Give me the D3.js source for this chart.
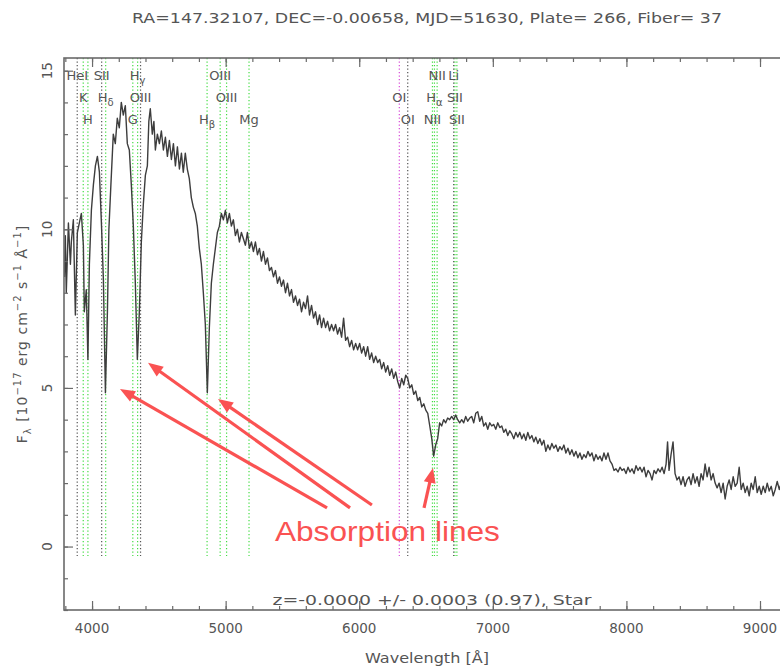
<!DOCTYPE html>
<html><head><meta charset="utf-8">
<script src="https://cdn.jsdelivr.net/npm/d3@7"></script>
<style>body{margin:0;background:#fff;} svg{display:block;}</style>
</head><body>
<svg id="c" width="780" height="668"></svg>
<script>
// ---- data ----
const wavelength = [3793,3800,3807,3823,3838,3845,3860,3875,3890,3905,3920,3935,3942,3957,3969,3980,3995,4010,4025,4040,4055,4070,4085,4100,4115,4126,4141,4159,4174,4189,4204,4219,4234,4249,4264,4279,4294,4309,4324,4339,4354,4369,4384,4399,4414,4425,4436,4451,4463,4474,4489,4504,4519,4534,4549,4564,4579,4594,4609,4624,4639,4654,4669,4683,4698,4713,4728,4743,4758,4773,4788,4803,4818,4833,4848,4863,4878,4893,4908,4923,4938,4953,4968,4983,4998,5013,5028,5043,5058,5073,5088,5103,5118,5133,5148,5163,5178,5193,5208,5223,5238,5253,5268,5283,5298,5313,5328,5343,5358,5373,5388,5403,5418,5433,5448,5463,5478,5493,5508,5523,5538,5553,5568,5583,5598,5613,5628,5643,5658,5673,5688,5703,5718,5733,5748,5763,5778,5793,5808,5823,5838,5853,5868,5883,5898,5913,5928,5943,5958,5973,5988,6003,6018,6033,6048,6063,6078,6093,6108,6123,6138,6153,6168,6183,6198,6213,6228,6243,6258,6273,6288,6303,6318,6333,6348,6363,6378,6393,6408,6423,6438,6453,6468,6483,6498,6513,6528,6543,6557,6572,6587,6602,6617,6632,6647,6662,6677,6692,6707,6722,6737,6752,6767,6782,6797,6812,6827,6842,6857,6872,6887,6902,6917,6932,6947,6962,6977,6992,7007,7022,7037,7052,7067,7082,7097,7112,7127,7142,7157,7172,7187,7202,7217,7232,7247,7262,7277,7292,7307,7322,7337,7352,7367,7382,7397,7412,7427,7442,7457,7472,7487,7502,7517,7532,7547,7562,7577,7592,7607,7622,7637,7652,7667,7682,7697,7712,7727,7742,7757,7772,7787,7802,7817,7832,7847,7862,7877,7892,7907,7922,7937,7952,7967,7982,7997,8012,8027,8042,8057,8072,8087,8102,8117,8132,8147,8162,8177,8192,8207,8222,8237,8252,8267,8282,8297,8308,8319,8334,8349,8364,8379,8394,8409,8424,8439,8454,8469,8484,8499,8514,8529,8544,8559,8574,8589,8604,8619,8634,8649,8664,8679,8694,8709,8724,8739,8754,8769,8784,8799,8814,8829,8844,8859,8874,8889,8904,8919,8934,8949,8964,8979,8994,9009,9024,9039,9054,9069,9084,9099,9114,9129,9144,9159,9174];
const flux = [8.5,9.8,8.0,10.2,8.9,9.6,10.3,7.3,9.9,10.2,10.5,9.5,7.4,8.1,5.9,8.9,10.6,11.4,12.0,12.3,11.8,10.2,8.4,4.85,7.4,10.0,11.4,13.0,12.7,13.5,13.2,14.0,13.6,13.9,12.7,12.5,11.4,10.1,8.3,5.9,7.4,9.6,10.8,11.7,12.0,13.4,13.8,13.0,13.4,12.5,13.0,12.7,13.1,12.5,12.9,12.3,12.8,12.2,12.7,12.0,12.6,11.9,12.4,11.8,12.4,11.9,11.6,11.0,10.7,10.5,10.1,9.4,8.9,8.0,7.0,4.85,6.9,8.3,8.9,9.4,9.9,10.1,10.5,10.3,10.6,10.2,10.5,10.1,10.3,9.8,10.0,9.6,9.9,9.7,9.5,9.9,9.4,9.6,9.3,9.6,9.2,9.4,9.0,9.3,8.9,9.1,8.7,8.8,8.5,8.7,8.3,8.5,8.2,8.4,8.0,8.3,7.9,8.1,7.7,7.9,7.6,7.8,7.4,7.7,7.5,7.9,7.3,7.6,7.2,7.4,7.0,7.3,6.9,7.2,6.9,7.1,6.8,7.0,6.8,7.0,6.7,6.9,6.6,7.2,6.5,6.6,6.3,6.5,6.2,6.4,6.2,6.4,6.1,6.3,6.0,6.3,5.9,6.1,5.8,6.0,5.8,5.9,5.6,5.8,5.5,5.7,5.4,5.6,5.3,5.5,5.2,5.0,5.3,5.1,5.4,5.3,5.0,5.1,4.8,4.9,4.6,4.7,4.4,4.5,4.3,4.2,3.8,3.4,2.85,3.2,3.4,3.9,3.8,4.0,3.9,4.05,4.0,4.1,4.0,4.15,4.0,3.9,4.0,3.9,4.1,3.95,4.05,4.1,3.9,4.2,4.25,3.95,4.1,3.8,3.9,3.7,3.9,3.8,3.85,3.7,3.9,3.75,3.8,3.6,3.7,3.5,3.65,3.55,3.4,3.6,3.45,3.6,3.4,3.55,3.35,3.6,3.4,3.5,3.3,3.45,3.25,3.4,3.2,3.35,3.0,3.2,3.05,3.25,3.1,3.2,3.0,3.15,3.05,3.2,2.95,3.1,2.9,3.05,2.85,3.0,2.8,2.95,2.75,2.9,2.8,3.0,2.85,2.95,2.7,2.9,2.75,2.85,2.7,2.95,2.75,2.95,2.7,2.6,2.4,2.45,2.35,2.5,2.4,2.45,2.3,2.5,2.35,2.45,2.3,2.55,2.4,2.5,2.35,2.5,2.2,2.4,2.3,2.1,2.4,2.3,2.45,2.35,2.5,2.3,2.6,3.3,2.4,2.9,3.3,2.3,2.1,2.2,1.95,2.2,1.9,2.1,2.2,1.95,2.3,2.0,2.2,1.9,2.3,2.1,2.6,2.2,2.5,2.1,2.3,2.0,1.85,2.0,1.7,2.0,1.5,1.9,2.1,1.8,2.2,1.9,2.0,2.5,1.8,2.0,1.7,1.9,1.6,2.0,1.8,2.2,1.7,1.9,1.65,1.9,1.7,2.0,1.75,1.9,1.6,1.8,2.05,1.8,2.0,1.9];

const lineWave = [3889,3934,3969,4072,4102,4305,4341,4363,4861,4959,5007,5175,6300,6363,6548,6563,6583,6707,6716,6731];
const lineName = ["HeI","K","H","SII","H|δ","G","H|γ","OIII","H|β","OIII","OIII","Mg","OI","OI","NII","H|α","NII","Li","SII","SII"];
const lineRow  = [1,2,3,1,2,3,1,2,3,1,2,3,2,3,3,2,1,1,2,3];
const lineKind = ["abs","em","em","abs","em","em","em","abs","em","em","em","em","sky","abs","em","em","em","abs","em","em"];

const xTickValues = [4000,5000,6000,7000,8000,9000];
const yTickValues = [0,5,10,15];

const titleText = "RA=147.32107, DEC=-0.00658, MJD=51630, Plate= 266, Fiber= 37";
const fitText = "z=-0.0000 +/- 0.0003 (0.97), Star";
const annotText = "Absorption lines";
const annotPos = [5369, 0.18];
const arrowTips  = [[4209,4.97],[4419,5.79],[4943,4.65],[6552,2.48]];
const arrowTails = [[5759,1.22],[5931,1.22],[6095,1.31],[6485,1.22]];

// ---- drawing ----
const svg = d3.select('#c');
const x = d3.scaleLinear().domain([3790,9220]).range([64,789.4]);
const y = d3.scaleLinear().domain([-2,15.4]).range([610,58]);
const axisCol = '#6a6a6a', txtCol = '#555';
const font = 'DejaVu Sans';

svg.append('defs').append('clipPath').attr('id','pc')
  .append('rect').attr('x',64).attr('y',58).attr('width',725).attr('height',552);

// line markers
const lg = svg.append('g').attr('clip-path','url(#pc)');
const colorOf = k => k==='em' ? '#44dd44' : (k==='sky' ? '#d84bd8' : '#555');
lineWave.forEach((w,i)=>{
  lg.append('line').attr('x1',x(w)).attr('x2',x(w))
    .attr('y1',y(15.4)).attr('y2',y(-0.3))
    .attr('stroke',colorOf(lineKind[i])).attr('stroke-width',1.2)
    .attr('stroke-dasharray','1.3,2.2');
});

// labels
const rowY = {1:80, 2:102, 3:124};
lineWave.forEach((w,i)=>{
  const parts = lineName[i].split('|');
  const t = svg.append('text').attr('x',x(w)).attr('y',rowY[lineRow[i]])
    .attr('text-anchor','middle').attr('font-family',font).attr('font-size',13).attr('fill',txtCol);
  t.append('tspan').text(parts[0]);
  if(parts[1]) t.append('tspan').attr('font-size',10).attr('dy',4).text(parts[1]);
});

// spectrum
const pts = wavelength.map((w,i)=>[w,flux[i]]);
lg.append('path').datum(pts)
  .attr('d', d3.line().x(d=>x(d[0])).y(d=>y(d[1])))
  .attr('fill','none').attr('stroke','#3d3d3d').attr('stroke-width',1.4).attr('stroke-linejoin','round');

// axes (inward ticks)
function styleAxis(g){ g.select('.domain').remove(); g.selectAll('line').attr('stroke',axisCol).attr('stroke-width',1.2); g.selectAll('text').remove(); }
const xMinor = d3.range(3800,9221,200);
const yMinor = d3.range(-2,15.1,1);
svg.append('g').attr('transform','translate(0,610)').call(d3.axisBottom(x).tickValues(xMinor).tickSize(-4)).call(styleAxis);
svg.append('g').attr('transform','translate(0,610)').call(d3.axisBottom(x).tickValues(xTickValues).tickSize(-9)).call(styleAxis);
svg.append('g').attr('transform','translate(0,58)').call(d3.axisTop(x).tickValues(xMinor).tickSize(-4)).call(styleAxis);
svg.append('g').attr('transform','translate(0,58)').call(d3.axisTop(x).tickValues(xTickValues).tickSize(-9)).call(styleAxis);
svg.append('g').attr('transform','translate(64,0)').call(d3.axisLeft(y).tickValues(yMinor).tickSize(-4)).call(styleAxis);
svg.append('g').attr('transform','translate(64,0)').call(d3.axisLeft(y).tickValues(yTickValues).tickSize(-9)).call(styleAxis);

// frame
svg.append('rect').attr('x',64).attr('y',58).attr('width',725).attr('height',552)
  .attr('fill','none').attr('stroke',axisCol).attr('stroke-width',1.6);

// tick labels
xTickValues.forEach(v=>{
  svg.append('text').attr('x',x(v)).attr('y',633).attr('text-anchor','middle')
    .attr('font-family',font).attr('font-size',13.5).attr('fill',txtCol).text(v);
});
yTickValues.forEach(v=>{
  svg.append('text').attr('transform',`translate(52,${y(v)}) rotate(-90)`).attr('text-anchor','middle')
    .attr('font-family',font).attr('font-size',13.5).attr('fill',txtCol).text(v);
});

// titles
svg.append('text').attr('x',427).attr('y',23).attr('text-anchor','middle')
  .attr('font-family',font).attr('font-size',13.5).attr('fill',txtCol)
  .attr('textLength',590).attr('lengthAdjust','spacingAndGlyphs').text(titleText);
svg.append('text').attr('x',432).attr('y',605).attr('text-anchor','middle')
  .attr('font-family',font).attr('font-size',14).attr('fill',txtCol)
  .attr('textLength',319).attr('lengthAdjust','spacingAndGlyphs').text(fitText);
svg.append('text').attr('x',427).attr('y',663).attr('text-anchor','middle')
  .attr('font-family',font).attr('font-size',13.5).attr('fill',txtCol)
  .attr('textLength',124).attr('lengthAdjust','spacingAndGlyphs').text('Wavelength [Å]');

const yt = svg.append('text').attr('transform','translate(27,334) rotate(-90)').attr('text-anchor','middle')
  .attr('font-family',font).attr('font-size',14).attr('fill',txtCol).attr('letter-spacing',1);
yt.append('tspan').text('F');
yt.append('tspan').attr('font-size',10).attr('dy',4).text('λ');
yt.append('tspan').attr('dy',-4).text(' [10');
yt.append('tspan').attr('font-size',10).attr('dy',-6).text('−17');
yt.append('tspan').attr('dy',6).text(' erg cm');
yt.append('tspan').attr('font-size',10).attr('dy',-6).text('−2');
yt.append('tspan').attr('dy',6).text(' s');
yt.append('tspan').attr('font-size',10).attr('dy',-6).text('−1');
yt.append('tspan').attr('dy',6).text(' Å');
yt.append('tspan').attr('font-size',10).attr('dy',-6).text('−1');
yt.append('tspan').attr('dy',6).text(']');

// annotation
const red = '#fa5252';
arrowTips.forEach((tip,i)=>{
  const tail = arrowTails[i];
  const x1=x(tail[0]), y1=y(tail[1]), x2=x(tip[0]), y2=y(tip[1]);
  const dx=x2-x1, dy=y2-y1, L=Math.hypot(dx,dy), ux=dx/L, uy=dy/L;
  const hl=15, hw=6;
  const bx=x2-ux*hl, by=y2-uy*hl;
  svg.append('line').attr('x1',x1).attr('y1',y1).attr('x2',bx+ux*2).attr('y2',by+uy*2)
    .attr('stroke',red).attr('stroke-width',3.2);
  svg.append('polygon').attr('points',[[x2,y2],[bx-uy*hw,by+ux*hw],[bx+uy*hw,by-ux*hw]].map(p=>p.join(',')).join(' '))
    .attr('fill',red);
});
svg.append('text').attr('x',x(annotPos[0])).attr('y',y(annotPos[1]))
  .attr('font-family','Liberation Sans').attr('font-size',28).attr('fill',red)
  .attr('textLength',225).attr('lengthAdjust','spacingAndGlyphs').text(annotText);
</script>
</body></html>
